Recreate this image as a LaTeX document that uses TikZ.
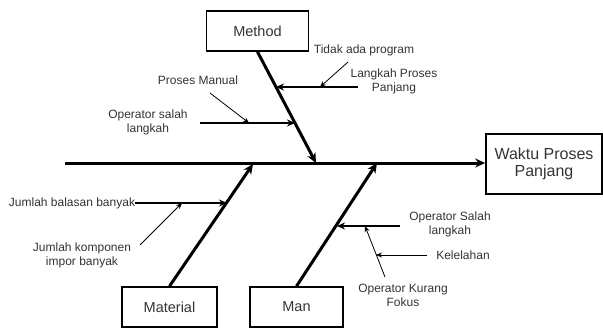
\documentclass[tikz,border=0pt]{standalone}
\usepackage{fontspec}
\setmainfont{Liberation Sans}
\usetikzlibrary{arrows.meta}

\begin{document}
\begin{tikzpicture}[x=1pt, y=-1pt,
    box/.style={draw, line width=1.6pt, inner sep=0pt, text=black!80,
      font=\fontsize{14.5}{16}\selectfont, align=center},
    lbl/.style={inner sep=0pt, text=black!80, font=\fontsize{12}{14}\selectfont, align=center},
    bone/.style={-{Stealth[length=10pt,width=9pt]}, line width=3pt},
    cause/.style={-{Stealth[length=8pt,width=7pt]}, line width=1.6pt},
    note/.style={-{Stealth[length=6pt,width=5pt]}, line width=0.8pt}]
    \useasboundingbox (0,0) rectangle (603,329);

    \node[box, minimum width=102pt, minimum height=40pt] (method) at (257.5,31) {Method};
    \node[box, minimum width=95pt, minimum height=40pt] (material) at (169.5,307) {Material};
    \node[box, minimum width=93pt, minimum height=40pt] (man) at (296.5,307) {Man};
    \node[box, minimum width=116pt, minimum height=60pt, font=\fontsize{16}{17}\selectfont] (effect) at (544,164) {Waktu Proses\\Panjang};

    \coordinate (tail) at (65,163);
    \coordinate (mhead) at (316,163);
    \coordinate (thead) at (253,164);
    \coordinate (nhead) at (377,163);

    \draw[bone] (tail) -- (effect.west |- tail);
    \draw[bone] (method.south) -- (mhead);
    \draw[bone] (material.north) -- (thead);
    \draw[bone] (man.north) -- (nhead);

    % method
    \node[lbl] (langkah) at (394,81) {Langkah Proses\\Panjang};
    \node[lbl] (tidak) at (364,50) {Tidak ada program};
    \node[lbl] (opsalah) at (148,122) {Operator salah\\langkah};
    \node[lbl] (manual) at (198,80) {Proses Manual};
    \coordinate (lstart) at (358,87);
    \coordinate (lend) at (276,87);
    \coordinate (ostart) at (200,123);
    \coordinate (oend) at (295,123);
    \coordinate (tstart) at (348,62);
    \coordinate (tend) at (320,87);
    \coordinate (pstart) at (210,93);
    \coordinate (pend) at (249,123);
    \draw[cause] (lstart) -- (lend);
    \draw[cause] (ostart) -- (oend);
    \draw[note] (tstart) -- (tend);
    \draw[note] (pstart) -- (pend);

    % material
    \node[lbl] (balasan) at (72,203) {Jumlah balasan banyak};
    \node[lbl] (komponen) at (82,255) {Jumlah komponen\\impor banyak};
    \coordinate (bend) at (227,203);
    \coordinate (kstart) at (140,245);
    \coordinate (kend) at (182,203);
    \draw[cause] (balasan.east) -- (bend);
    \draw[note] (kstart) -- (kend);

    % man
    \node[lbl] (mansalah) at (450,224) {Operator Salah\\langkah};
    \node[lbl] (lelah) at (463,255) {Kelelahan};
    \node[lbl] (fokus) at (403,295) {Operator Kurang\\Fokus};
    \coordinate (sstart) at (400,226);
    \coordinate (send) at (337,226);
    \coordinate (fstart) at (385,277);
    \coordinate (fend) at (365,226);
    \coordinate (estart) at (427,255);
    \coordinate (eend) at (376,255);
    \draw[cause] (sstart) -- (send);
    \draw[note] (fstart) -- (fend);
    \draw[note] (estart) -- (eend);
\end{tikzpicture}
\end{document}
